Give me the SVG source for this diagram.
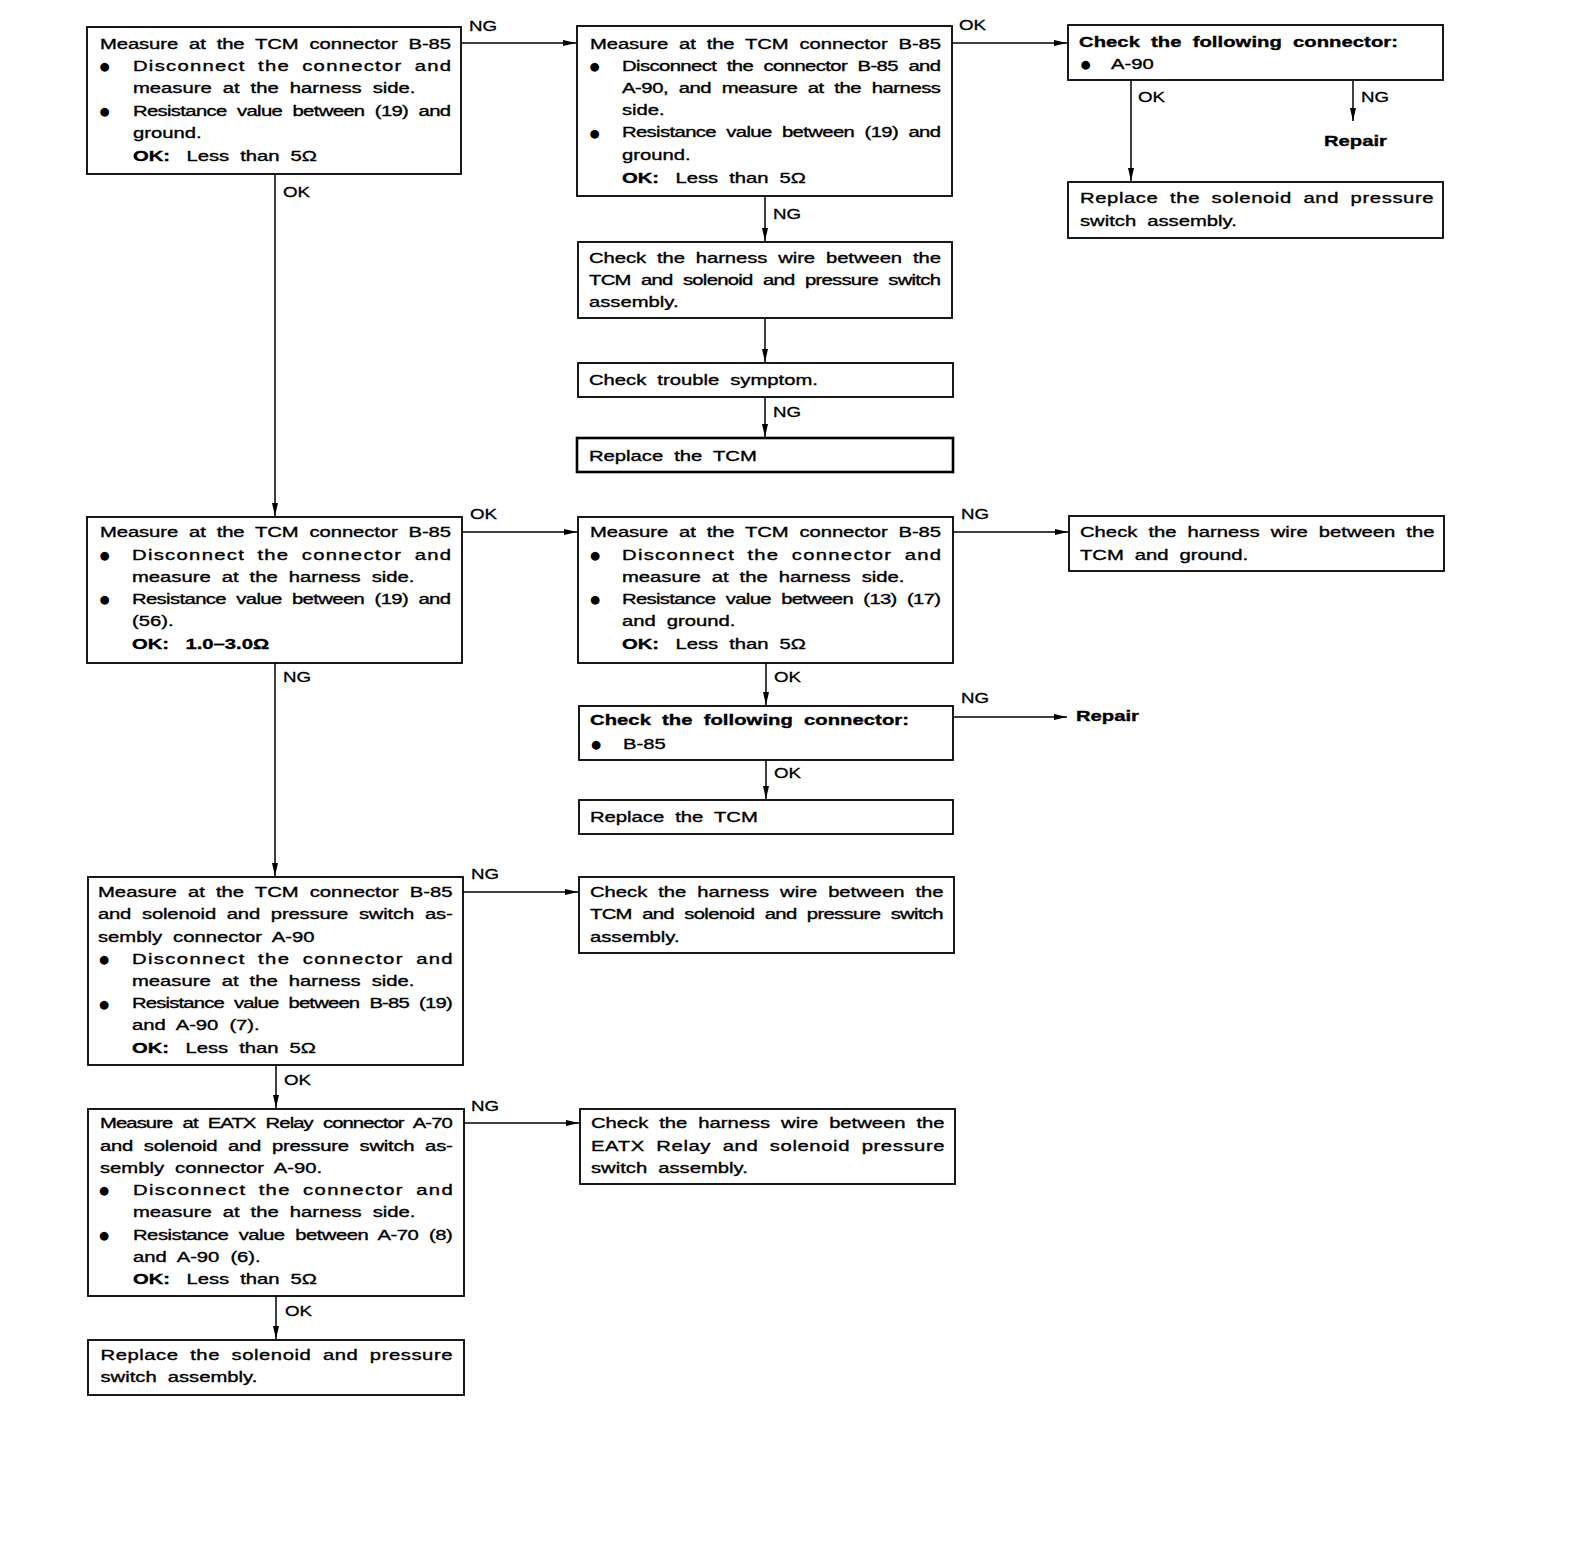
<svg xmlns="http://www.w3.org/2000/svg" width="1584" height="1562" viewBox="0 0 1584 1562">
<style>
.box{fill:#fff;stroke:#000;stroke-width:1.8}
.t{font-family:"Liberation Sans",Arial,sans-serif;font-size:15px;fill:#000;stroke:#000;stroke-width:0.35;word-spacing:4px}
.b{font-weight:bold}
.bu{font-family:"DejaVu Sans",sans-serif;font-size:11.5px;fill:#000;text-anchor:middle}
.lbl{font-family:"Liberation Sans",Arial,sans-serif;font-size:15px;fill:#000;stroke:#000;stroke-width:0.3}
.cn{stroke:#000;stroke-width:1.5;fill:none}
</style>
<defs>
<marker id="ah" markerUnits="userSpaceOnUse" markerWidth="14" markerHeight="8" refX="13" refY="4" orient="auto"><path d="M0,1 L13,4 L0,7 Z" fill="#000"/></marker>
</defs>
<rect width="1584" height="1562" fill="#fff"/>

<g id="n1">
<rect class="box" x="87" y="27" width="374" height="147"/>
<text class="t" transform="translate(100,48.5) scale(1.35,1)" textLength="260" lengthAdjust="spacing">Measure at the TCM connector B-85</text>
<text class="bu" x="104.5" y="70">●</text>
<text class="t" transform="translate(133,70.7) scale(1.35,1)" textLength="235.6" lengthAdjust="spacing">Disconnect the connector and</text>
<text class="t" transform="translate(133,93) scale(1.35,1)">measure at the harness side.</text>
<text class="bu" x="104.5" y="114.8">●</text>
<text class="t" transform="translate(133,115.5) scale(1.35,1)" textLength="235.6" lengthAdjust="spacing">Resistance value between (19) and</text>
<text class="t" transform="translate(133,138) scale(1.35,1)">ground.</text>
<text class="t" transform="translate(133,160.5) scale(1.35,1)"><tspan class="b">OK:</tspan> <tspan dx="4">Less than 5Ω</tspan></text>
</g>

<g id="n2">
<rect class="box" x="577" y="26" width="375" height="170"/>
<text class="t" transform="translate(590,48.5) scale(1.35,1)" textLength="260" lengthAdjust="spacing">Measure at the TCM connector B-85</text>
<text class="bu" x="594.5" y="70">●</text>
<text class="t" transform="translate(622,70.7) scale(1.35,1)" textLength="236.3" lengthAdjust="spacing">Disconnect the connector B-85 and</text>
<text class="t" transform="translate(622,92.9) scale(1.35,1)" textLength="236.3" lengthAdjust="spacing">A-90, and measure at the harness</text>
<text class="t" transform="translate(622,115.1) scale(1.35,1)">side.</text>
<text class="bu" x="594.5" y="136.7">●</text>
<text class="t" transform="translate(622,137.4) scale(1.35,1)" textLength="236.3" lengthAdjust="spacing">Resistance value between (19) and</text>
<text class="t" transform="translate(622,160) scale(1.35,1)">ground.</text>
<text class="t" transform="translate(622,182.5) scale(1.35,1)"><tspan class="b">OK:</tspan> <tspan dx="4">Less than 5Ω</tspan></text>
</g>

<g id="n3">
<rect class="box" x="1068" y="25" width="375" height="55"/>
<text class="t b" transform="translate(1079,46.5) scale(1.35,1)" textLength="236.3" lengthAdjust="spacing">Check the following connector:</text>
<text class="bu" x="1085.5" y="68">●</text>
<text class="t" transform="translate(1111,68.7) scale(1.35,1)">A-90</text>
</g>

<g id="n4">
<rect class="box" x="1068" y="182" width="375" height="56"/>
<text class="t" transform="translate(1080,203) scale(1.35,1)" textLength="261.9" lengthAdjust="spacing">Replace the solenoid and pressure</text>
<text class="t" transform="translate(1080,226) scale(1.35,1)">switch assembly.</text>
</g>

<g id="n5">
<rect class="box" x="578" y="242" width="374" height="76"/>
<text class="t" transform="translate(589,262.7) scale(1.35,1)" textLength="260.7" lengthAdjust="spacing">Check the harness wire between the</text>
<text class="t" transform="translate(589,284.9) scale(1.35,1)" textLength="260.7" lengthAdjust="spacing">TCM and solenoid and pressure switch</text>
<text class="t" transform="translate(589,307.1) scale(1.35,1)">assembly.</text>
</g>

<g id="n6">
<rect class="box" x="578" y="363" width="375" height="34"/>
<text class="t" transform="translate(589,385) scale(1.35,1)">Check trouble symptom.</text>
</g>

<g id="n7">
<rect class="box" x="577" y="438" width="376" height="34" style="stroke-width:2.6"/>
<text class="t" transform="translate(589,460.7) scale(1.35,1)">Replace the TCM</text>
</g>

<g id="n8">
<rect class="box" x="87" y="517" width="375" height="146"/>
<text class="t" transform="translate(100,537.4) scale(1.35,1)" textLength="260" lengthAdjust="spacing">Measure at the TCM connector B-85</text>
<text class="bu" x="104.5" y="559">●</text>
<text class="t" transform="translate(132,559.7) scale(1.35,1)" textLength="236.3" lengthAdjust="spacing">Disconnect the connector and</text>
<text class="t" transform="translate(132,581.9) scale(1.35,1)">measure at the harness side.</text>
<text class="bu" x="104.5" y="603.4">●</text>
<text class="t" transform="translate(132,604.1) scale(1.35,1)" textLength="236.3" lengthAdjust="spacing">Resistance value between (19) and</text>
<text class="t" transform="translate(132,626.3) scale(1.35,1)">(56).</text>
<text class="t b" transform="translate(132,648.5) scale(1.35,1)">OK: <tspan dx="4">1.0–3.0Ω</tspan></text>
</g>

<g id="n9">
<rect class="box" x="578" y="517" width="375" height="146"/>
<text class="t" transform="translate(590,537.4) scale(1.35,1)" textLength="260" lengthAdjust="spacing">Measure at the TCM connector B-85</text>
<text class="bu" x="595" y="559">●</text>
<text class="t" transform="translate(622,559.7) scale(1.35,1)" textLength="236.3" lengthAdjust="spacing">Disconnect the connector and</text>
<text class="t" transform="translate(622,581.9) scale(1.35,1)">measure at the harness side.</text>
<text class="bu" x="595" y="603.4">●</text>
<text class="t" transform="translate(622,604.1) scale(1.35,1)" textLength="236.3" lengthAdjust="spacing">Resistance value between (13) (17)</text>
<text class="t" transform="translate(622,626.3) scale(1.35,1)">and ground.</text>
<text class="t" transform="translate(622,648.5) scale(1.35,1)"><tspan class="b">OK:</tspan> <tspan dx="4">Less than 5Ω</tspan></text>
</g>

<g id="n10">
<rect class="box" x="1069" y="516" width="375" height="55"/>
<text class="t" transform="translate(1080,537.4) scale(1.35,1)" textLength="262.6" lengthAdjust="spacing">Check the harness wire between the</text>
<text class="t" transform="translate(1080,559.7) scale(1.35,1)">TCM and ground.</text>
</g>

<g id="n11">
<rect class="box" x="579" y="706" width="374" height="54"/>
<text class="t b" transform="translate(590,725.3) scale(1.35,1)" textLength="236.3" lengthAdjust="spacing">Check the following connector:</text>
<text class="bu" x="596" y="748">●</text>
<text class="t" transform="translate(623,748.6) scale(1.35,1)">B-85</text>
</g>

<g id="n12">
<rect class="box" x="579" y="800" width="374" height="34"/>
<text class="t" transform="translate(590,822.3) scale(1.35,1)">Replace the TCM</text>
</g>

<g id="n13">
<rect class="box" x="88" y="877" width="375" height="188"/>
<text class="t" transform="translate(98,897.1) scale(1.35,1)" textLength="262.7" lengthAdjust="spacing">Measure at the TCM connector B-85</text>
<text class="t" transform="translate(98,919.3) scale(1.35,1)" textLength="262.7" lengthAdjust="spacing">and solenoid and pressure switch as-</text>
<text class="t" transform="translate(98,941.5) scale(1.35,1)">sembly connector A-90</text>
<text class="bu" x="104" y="963">●</text>
<text class="t" transform="translate(132,963.7) scale(1.35,1)" textLength="237.5" lengthAdjust="spacing">Disconnect the connector and</text>
<text class="t" transform="translate(132,986) scale(1.35,1)">measure at the harness side.</text>
<text class="bu" x="104" y="1007.5">●</text>
<text class="t" transform="translate(132,1008.2) scale(1.35,1)" textLength="237.5" lengthAdjust="spacing">Resistance value between B-85 (19)</text>
<text class="t" transform="translate(132,1030.4) scale(1.35,1)">and A-90 (7).</text>
<text class="t" transform="translate(132,1052.6) scale(1.35,1)"><tspan class="b">OK:</tspan> <tspan dx="4">Less than 5Ω</tspan></text>
</g>

<g id="n14">
<rect class="box" x="579" y="877" width="375" height="76"/>
<text class="t" transform="translate(590,897.1) scale(1.35,1)" textLength="261.9" lengthAdjust="spacing">Check the harness wire between the</text>
<text class="t" transform="translate(590,919.3) scale(1.35,1)" textLength="261.9" lengthAdjust="spacing">TCM and solenoid and pressure switch</text>
<text class="t" transform="translate(590,941.5) scale(1.35,1)">assembly.</text>
</g>

<g id="n15">
<rect class="box" x="88" y="1109" width="376" height="187"/>
<text class="t" transform="translate(100,1128.4) scale(1.35,1)" textLength="261.3" lengthAdjust="spacing">Measure at EATX Relay connector A-70</text>
<text class="t" transform="translate(100,1150.6) scale(1.35,1)" textLength="261.3" lengthAdjust="spacing">and solenoid and pressure switch as-</text>
<text class="t" transform="translate(100,1172.8) scale(1.35,1)">sembly connector A-90.</text>
<text class="bu" x="104" y="1194.4">●</text>
<text class="t" transform="translate(133,1195.1) scale(1.35,1)" textLength="236.8" lengthAdjust="spacing">Disconnect the connector and</text>
<text class="t" transform="translate(133,1217.3) scale(1.35,1)">measure at the harness side.</text>
<text class="bu" x="104" y="1238.8">●</text>
<text class="t" transform="translate(133,1239.5) scale(1.35,1)" textLength="236.8" lengthAdjust="spacing">Resistance value between A-70 (8)</text>
<text class="t" transform="translate(133,1261.7) scale(1.35,1)">and A-90 (6).</text>
<text class="t" transform="translate(133,1284) scale(1.35,1)"><tspan class="b">OK:</tspan> <tspan dx="4">Less than 5Ω</tspan></text>
</g>

<g id="n16">
<rect class="box" x="580" y="1109" width="375" height="75"/>
<text class="t" transform="translate(591,1128.4) scale(1.35,1)" textLength="261.9" lengthAdjust="spacing">Check the harness wire between the</text>
<text class="t" transform="translate(591,1150.6) scale(1.35,1)" textLength="261.9" lengthAdjust="spacing">EATX Relay and solenoid pressure</text>
<text class="t" transform="translate(591,1172.8) scale(1.35,1)">switch assembly.</text>
</g>

<g id="n17">
<rect class="box" x="88" y="1340" width="376" height="55"/>
<text class="t" transform="translate(100.5,1359.7) scale(1.35,1)" textLength="260.7" lengthAdjust="spacing">Replace the solenoid and pressure</text>
<text class="t" transform="translate(100.5,1382) scale(1.35,1)">switch assembly.</text>
</g>

<g id="repair1">
<text class="t b" transform="translate(1324,145.5) scale(1.35,1)">Repair</text>
</g>
<g id="repair2">
<text class="t b" transform="translate(1076,721) scale(1.35,1)">Repair</text>
</g>

<g id="connectors">
<line class="cn" x1="461" y1="43" x2="576" y2="43" marker-end="url(#ah)"/>
<line class="cn" x1="952" y1="43" x2="1067" y2="43" marker-end="url(#ah)"/>
<line class="cn" x1="275" y1="174" x2="275" y2="516" marker-end="url(#ah)"/>
<line class="cn" x1="765" y1="196" x2="765" y2="241" marker-end="url(#ah)"/>
<line class="cn" x1="765" y1="318" x2="765" y2="362" marker-end="url(#ah)"/>
<line class="cn" x1="765" y1="397" x2="765" y2="437" marker-end="url(#ah)"/>
<line class="cn" x1="1131" y1="80" x2="1131" y2="181" marker-end="url(#ah)"/>
<line class="cn" x1="1353" y1="80" x2="1353" y2="121" marker-end="url(#ah)"/>
<line class="cn" x1="462" y1="532" x2="577" y2="532" marker-end="url(#ah)"/>
<line class="cn" x1="953" y1="532" x2="1068" y2="532" marker-end="url(#ah)"/>
<line class="cn" x1="275" y1="663" x2="275" y2="876" marker-end="url(#ah)"/>
<line class="cn" x1="766" y1="663" x2="766" y2="705" marker-end="url(#ah)"/>
<line class="cn" x1="953" y1="717" x2="1067" y2="717" marker-end="url(#ah)"/>
<line class="cn" x1="766" y1="760" x2="766" y2="799" marker-end="url(#ah)"/>
<line class="cn" x1="463" y1="892" x2="578" y2="892" marker-end="url(#ah)"/>
<line class="cn" x1="276" y1="1065" x2="276" y2="1108" marker-end="url(#ah)"/>
<line class="cn" x1="464" y1="1123" x2="579" y2="1123" marker-end="url(#ah)"/>
<line class="cn" x1="276" y1="1296" x2="276" y2="1339" marker-end="url(#ah)"/>
<text class="lbl" transform="translate(469,30.5) scale(1.25,1)">NG</text>
<text class="lbl" transform="translate(959,29.5) scale(1.25,1)">OK</text>
<text class="lbl" transform="translate(1138,102) scale(1.25,1)">OK</text>
<text class="lbl" transform="translate(1361,102) scale(1.25,1)">NG</text>
<text class="lbl" transform="translate(283,197) scale(1.25,1)">OK</text>
<text class="lbl" transform="translate(773,219) scale(1.25,1)">NG</text>
<text class="lbl" transform="translate(773,417) scale(1.25,1)">NG</text>
<text class="lbl" transform="translate(470,519) scale(1.25,1)">OK</text>
<text class="lbl" transform="translate(961,519) scale(1.25,1)">NG</text>
<text class="lbl" transform="translate(283,682) scale(1.25,1)">NG</text>
<text class="lbl" transform="translate(774,682) scale(1.25,1)">OK</text>
<text class="lbl" transform="translate(961,703) scale(1.25,1)">NG</text>
<text class="lbl" transform="translate(774,778) scale(1.25,1)">OK</text>
<text class="lbl" transform="translate(471,879) scale(1.25,1)">NG</text>
<text class="lbl" transform="translate(284,1085) scale(1.25,1)">OK</text>
<text class="lbl" transform="translate(471,1111) scale(1.25,1)">NG</text>
<text class="lbl" transform="translate(285,1316) scale(1.25,1)">OK</text>
</g>
</svg>
